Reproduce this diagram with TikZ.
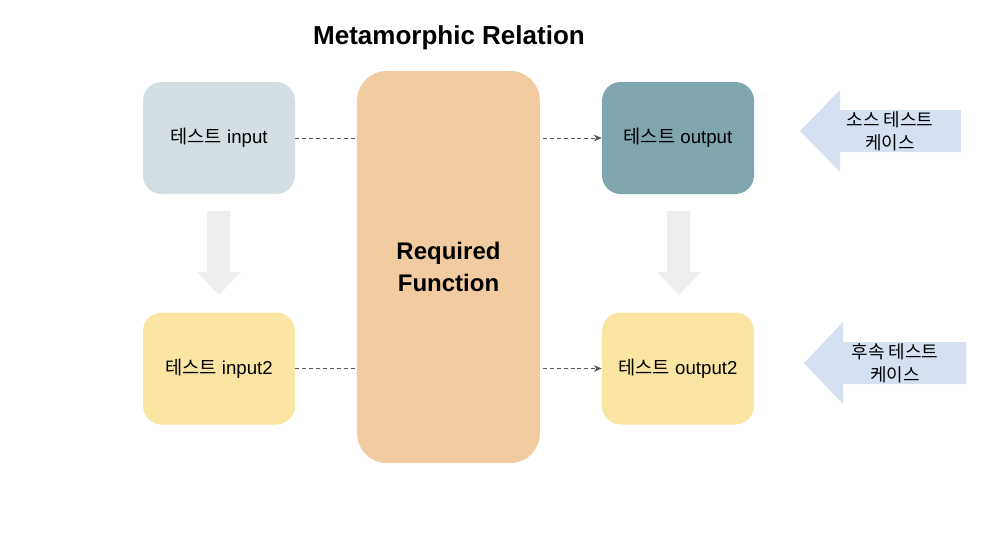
\documentclass[tikz,border=0pt]{standalone}
\usepackage{fontspec}
\setmainfont{Liberation Sans}
\newfontfamily\kr{Noto Sans CJK KR}
\usetikzlibrary{positioning,arrows.meta}
\definecolor{inblue}{HTML}{D4DFE3}
\definecolor{outteal}{HTML}{7FA5AD}
\definecolor{paleyellow}{HTML}{FBE5A3}
\definecolor{funcorange}{HTML}{F2CCA0}
\definecolor{caseblue}{HTML}{D5E1F1}
\definecolor{stepgray}{HTML}{EEEEEE}
\tikzset{
  testbox/.style={rounded corners=14pt, minimum width=114pt, minimum height=84pt,
    inner sep=0pt, font=\fontsize{14}{16}\selectfont},
  link/.style={draw=black!65, dashed, dash pattern=on 3pt off 2.2pt, line width=0.6pt},
  casetext/.style={align=center, font=\fontsize{13.5}{17}\selectfont}
}

\begin{document}
\begin{tikzpicture}[x=0.75pt,y=-0.75pt]
    \useasboundingbox (0,0) rectangle (1000,543);
    \node[font=\bfseries\fontsize{19.5}{22}\selectfont] (title) at (449,37.5) {Metamorphic Relation};
    \node[testbox, fill=inblue] (in) at (219,138) {{\kr 테스트} input};
    \node[testbox, fill=outteal] (out) at (678,138) {{\kr 테스트} output};
    \node[testbox, fill=paleyellow] (in2) at (219,368.5) {{\kr 테스트} input2};
    \node[testbox, fill=paleyellow] (out2) at (678,368.5) {{\kr 테스트} output2};
    \node[fill=funcorange, rounded corners=22pt, minimum width=137pt, minimum height=294pt,
      align=center, font=\bfseries\fontsize{18}{23.5}\selectfont] (func) at (448.5,267) {Required\\Function};
    % dashed links through the function
    \draw[link] (in.east) -- (in.east -| func.west);
    \draw[link] (in2.east) -- (in2.east -| func.west);
    \draw[link, -{Stealth[length=6pt,width=5pt]}, shorten <=2pt] (func.east |- out.west) -- (out.west);
    \draw[link, -{Stealth[length=6pt,width=5pt]}, shorten <=2pt] (func.east |- out2.west) -- (out2.west);
    % gray step arrows
    \fill[stepgray] (207,211) -- (230,211) -- (230,272) -- (241,272) -- (219,295) -- (197,272) -- (207,272) -- cycle;
    \fill[stepgray] (667,211) -- (690,211) -- (690,272) -- (701,272) -- (679,295) -- (657,272) -- (667,272) -- cycle;
    % test case arrows
    \fill[caseblue] (800,131) -- (840,90) -- (840,110) -- (961,110) -- (961,152) -- (840,152) -- (840,172) -- cycle;
    \fill[caseblue] (804,363) -- (843,322) -- (843,342) -- (966,342) -- (966,384) -- (843,384) -- (843,404) -- cycle;
    \node[casetext] (source) at (890,131) {\kr 소스 테스트\\\kr 케이스};
    \node[casetext] (follow) at (895,363) {\kr 후속 테스트\\\kr 케이스};
\end{tikzpicture}
\end{document}
